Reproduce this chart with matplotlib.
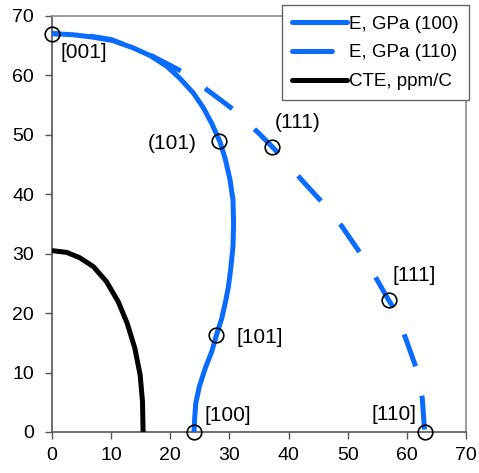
import matplotlib.pyplot as plt
import numpy as np

plt.rcParams['font.family'] = ['Liberation Sans', 'DejaVu Sans']

# E in (100) plane, GPa
e100_x = [0, 3.6, 7.0, 10.4, 13.7, 16.6, 19.4, 21.6, 23.9, 25.6, 27.0, 28.4, 29.3, 30.1, 30.6, 30.7,
          30.6, 30.2, 29.8, 29.4, 28.7, 27.8, 27.0, 25.9, 24.9, 24.3, 24.1, 24.0]
e100_y = [67, 66.8, 66.4, 65.8, 64.6, 63.3, 61.5, 59.5, 57.0, 54.5, 51.9, 48.8, 45.9, 42.4, 39.0, 35.1,
          31.2, 27.3, 24.3, 22.2, 19.1, 16.3, 13.5, 10.7, 7.6, 4.8, 2.0, 0]

# E in (110) plane, GPa
e110_x = [0, 5, 10, 16.6, 22.2, 26.4, 30.7, 34.9, 37.2, 38.9, 42.2, 45.8, 49.0, 52.1, 54.9, 56.9, 57.8, 59.7, 61.6, 62.6, 63.0]
e110_y = [67, 66.8, 66.0, 63.4, 60.5, 57.4, 54.2, 50.3, 48.0, 46.2, 42.4, 38.5, 34.6, 30.1, 25.7, 22.2, 20.8, 16.0, 10.7, 5.7, 0]

# CTE, ppm/C
cte_x = [0, 2.5, 4.7, 7.0, 9.2, 11.2, 12.7, 14.0, 14.9, 15.3, 15.4]
cte_y = [30.5, 30.2, 29.3, 27.8, 25.3, 21.9, 18.3, 14.1, 9.6, 5.1, 0]

# marked directions
mark_x = [0, 28.2, 37.2, 56.9, 27.8, 24.0, 63.0]
mark_y = [67, 48.9, 48.0, 22.2, 16.3, 0, 0]
mark_text = ['[001]', '(101)', '(111)', '[111]', '[101]', '[100]', '[110]']
text_x = [5.4, 20.4, 41.5, 61.3, 35.2, 29.7, 57.9]
text_y = [63.9, 48.5, 52.1, 26.4, 15.9, 2.7, 2.9]

blue = '#0a6cff'

fig = plt.figure(figsize=(4.79, 4.73), dpi=100)
ax = fig.add_axes([0.1086, 0.0867, 0.8643, 0.88])

ax.plot(e100_x, e100_y, color=blue, lw=3.6, solid_capstyle='butt', solid_joinstyle='round',
        label='E, GPa (100)', zorder=3)
ax.plot(e110_x, e110_y, color=blue, lw=3.6, linestyle=(5.2, (6.8, 6.0)), dash_capstyle='butt',
        dash_joinstyle='round', label='E, GPa (110)', zorder=3)
ax.plot(cte_x, cte_y, color='black', lw=3.6, solid_capstyle='butt', solid_joinstyle='round',
        label='CTE, ppm/C', zorder=3)
ax.plot(mark_x, mark_y, 'o', ms=10.5, mfc='none', mec='black', mew=1.2, zorder=4, clip_on=False)

for tx, ty, s in zip(text_x, text_y, mark_text):
    ax.text(tx, ty, s, fontsize=15, ha='center', va='center')

ax.set_xlim(0, 70)
ax.set_ylim(0, 70)
ax.set_xticks(np.arange(0, 71, 10))
ax.set_yticks(np.arange(0, 71, 10))
ax.tick_params(axis='both', labelsize=14, direction='out', length=5, width=1, color='#555555')
ax.tick_params(axis='x', pad=6)
ax.tick_params(axis='y', pad=8)
ax.tick_params(top=False, right=False)

for side in ['left', 'bottom']:
    ax.spines[side].set_color('#555555')
    ax.spines[side].set_linewidth(1.2)
for side in ['top', 'right']:
    ax.spines[side].set_color('#8c8c8c')
    ax.spines[side].set_linewidth(1.2)

leg = fig.legend(loc='upper left', bbox_to_anchor=(0.589, 0.989), fontsize=13.5, frameon=True,
                 fancybox=False, edgecolor='#666666', framealpha=1, handlelength=2.9,
                 handletextpad=0.1, labelspacing=0.62, borderpad=0.55, borderaxespad=0)
leg.get_frame().set_linewidth(1.0)
for h in leg.get_lines():
    h.set_solid_capstyle('round')
    h.set_dash_capstyle('round')
leg.get_lines()[1].set_linestyle((0, (8, 10)))

fig.savefig('out.png', dpi=100)
